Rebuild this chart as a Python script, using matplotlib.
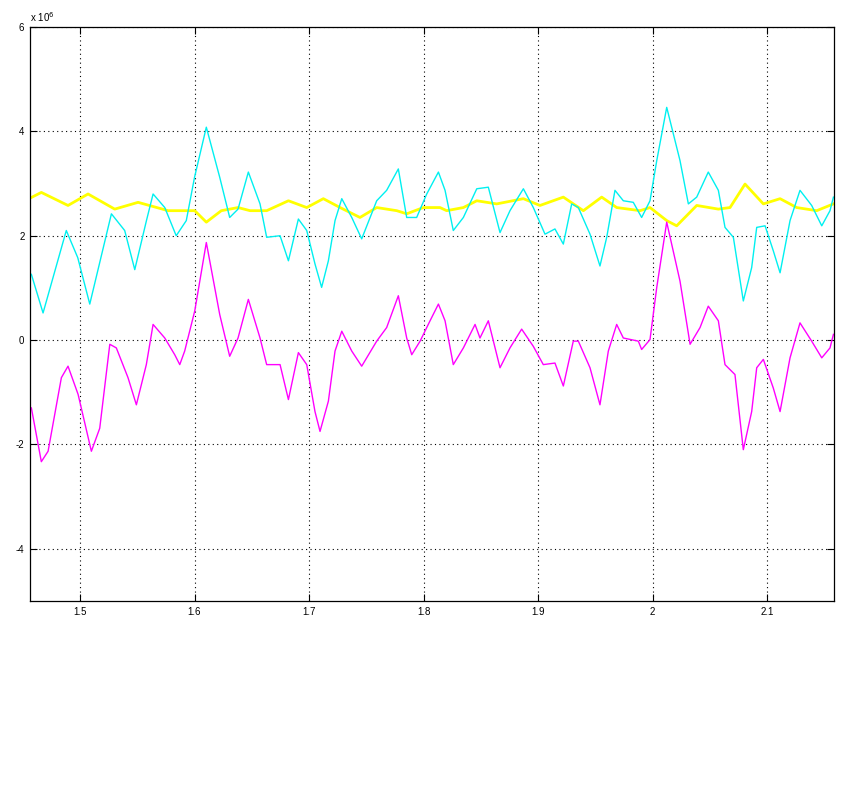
import matplotlib
matplotlib.use("Agg")
import matplotlib.pyplot as plt

# values in units of 1e6
yellow_x = [1.4563, 1.4662, 1.4895, 1.507, 1.5303, 1.5507, 1.5769, 1.6002, 1.6103, 1.6234, 1.638,
            1.6485, 1.663, 1.682, 1.698, 1.7125, 1.7271, 1.7445, 1.7591, 1.7766, 1.7853, 1.7998, 1.8144,
            1.8202, 1.8348, 1.8465, 1.8639, 1.8872, 1.9017, 1.9221, 1.9396, 1.9556, 1.9687, 1.9891,
            1.9978, 2.0124, 2.0211, 2.0386, 2.0575, 2.0677, 2.0808, 2.0968, 2.1114, 2.1259, 2.1434, 2.158]
yellow_y = [2.72, 2.83, 2.58, 2.80, 2.51, 2.64, 2.48, 2.48, 2.26, 2.48, 2.54,
            2.48, 2.48, 2.67, 2.54, 2.71, 2.54, 2.35, 2.54, 2.48, 2.42, 2.54, 2.54,
            2.48, 2.54, 2.67, 2.61, 2.71, 2.58, 2.74, 2.48, 2.74, 2.54, 2.48,
            2.54, 2.29, 2.19, 2.58, 2.51, 2.54, 2.99, 2.61, 2.71, 2.54, 2.48, 2.61]

cyan_x = [1.4575, 1.4677, 1.488, 1.498, 1.5085, 1.5274, 1.539, 1.5478, 1.558, 1.5638, 1.574, 1.584,
          1.5928, 1.600, 1.6103, 1.622, 1.6307, 1.638, 1.647, 1.6572, 1.663, 1.6747, 1.682, 1.6907,
          1.698, 1.7052, 1.711, 1.7169, 1.7227, 1.7286, 1.7373, 1.746, 1.7591, 1.7678, 1.778, 1.7853,
          1.794, 1.8028, 1.813, 1.8188, 1.826, 1.8348, 1.8465, 1.8566, 1.8668, 1.8755, 1.8872, 1.8959,
          1.9061, 1.9148, 1.9221, 1.9294, 1.9352, 1.9454, 1.9541, 1.96, 1.9672, 1.9745, 1.9832,
          1.9905, 1.9978, 2.0037, 2.0124, 2.024, 2.0313, 2.0386, 2.0487, 2.0575, 2.0633, 2.0706,
          2.0793, 2.0866, 2.091, 2.0983, 2.1055, 2.1114, 2.1201, 2.1288, 2.139, 2.1478, 2.155, 2.158]
cyan_y = [1.26, 0.52, 2.10, 1.58, 0.69, 2.42, 2.10, 1.35, 2.29, 2.80, 2.54, 2.0,
          2.29, 3.12, 4.08, 3.12, 2.35, 2.51, 3.22, 2.61, 1.97, 2.0, 1.52, 2.32,
          2.10, 1.46, 1.01, 1.52, 2.29, 2.71, 2.35, 1.94, 2.67, 2.87, 3.28, 2.35,
          2.35, 2.80, 3.22, 2.87, 2.10, 2.35, 2.90, 2.93, 2.06, 2.48, 2.90, 2.54,
          2.03, 2.13, 1.84, 2.61, 2.54, 2.03, 1.42, 1.97, 2.87, 2.67, 2.64,
          2.35, 2.67, 3.44, 4.46, 3.44, 2.61, 2.74, 3.22, 2.87, 2.16, 1.97,
          0.75, 1.39, 2.16, 2.19, 1.71, 1.29, 2.29, 2.87, 2.58, 2.19, 2.48, 2.74]

magenta_x = [1.4575, 1.4662, 1.4721, 1.4837, 1.4895, 1.4983, 1.5099, 1.5172, 1.526, 1.5317, 1.5419,
             1.5492, 1.5579, 1.5638, 1.574, 1.5827, 1.5871, 1.5914, 1.6002, 1.6103, 1.622, 1.6307,
             1.638, 1.647, 1.6572, 1.663, 1.6747, 1.682, 1.6907, 1.698, 1.7052, 1.7096, 1.7169,
             1.7227, 1.7286, 1.7373, 1.746, 1.7591, 1.7678, 1.778, 1.7853, 1.7897, 1.797, 1.8057,
             1.813, 1.8188, 1.826, 1.8348, 1.845, 1.8493, 1.8566, 1.8668, 1.8755, 1.8857, 1.8959,
             1.9046, 1.9148, 1.9221, 1.9308, 1.9352, 1.9454, 1.9541, 1.9614, 1.9687, 1.9745, 1.9876,
             1.9905, 1.9978, 2.0037, 2.0124, 2.024, 2.0328, 2.0415, 2.0487, 2.0575, 2.0633, 2.072,
             2.0793, 2.0866, 2.091, 2.0968, 2.1055, 2.1114, 2.1201, 2.1288, 2.139, 2.1478, 2.155, 2.158]
magenta_y = [-1.30, -2.33, -2.13, -0.72, -0.50, -1.04, -2.13, -1.69, -0.08, -0.15, -0.72,
             -1.24, -0.47, 0.30, 0.04, -0.28, -0.47, -0.21, 0.56, 1.87, 0.49, -0.31,
             0.04, 0.78, 0.04, -0.47, -0.47, -1.14, -0.24, -0.47, -1.37, -1.75, -1.17,
             -0.21, 0.17, -0.21, -0.50, -0.02, 0.24, 0.85, 0.04, -0.28, -0.02, 0.37,
             0.69, 0.37, -0.47, -0.15, 0.30, 0.04, 0.37, -0.53, -0.15, 0.21, -0.12,
             -0.47, -0.44, -0.88, -0.02, -0.02, -0.53, -1.24, -0.21, 0.30, 0.04, -0.02,
             -0.18, 0.01, 1.01, 2.26, 1.13, -0.08, 0.24, 0.65, 0.37, -0.47, -0.66,
             -2.10, -1.37, -0.53, -0.37, -0.92, -1.37, -0.34, 0.33, -0.02, -0.34, -0.15, 0.11]

x_ticks = [1.5, 1.6, 1.7, 1.8, 1.9, 2.0, 2.1]
x_tick_labels = ["1.5", "1.6", "1.7", "1.8", "1.9", "2", "2.1"]
y_ticks = [-4, -2, 0, 2, 4, 6]
y_tick_labels = ["-4", "-2", "0", "2", "4", "6"]

plt.rcParams['font.family'] = ['Liberation Sans', 'DejaVu Sans']

W, H = 857, 807
fig = plt.figure(figsize=(W / 100, H / 100), dpi=100)
ax = fig.add_axes([30 / W, 1 - 601 / H, (834 - 30) / W, (601 - 27) / H])

ax.plot(yellow_x, yellow_y, color='#ffff00', lw=2.0)
ax.plot(cyan_x, cyan_y, color='#00f0f0', lw=1.0)
ax.plot(magenta_x, magenta_y, color='#ff00ff', lw=1.0)

ax.set_xlim(1.4563, 2.1585)
ax.set_ylim(-5, 6)
ax.set_xticks(x_ticks)
ax.set_xticklabels(x_tick_labels)
ax.set_yticks(y_ticks)
ax.set_yticklabels(y_tick_labels)
ax.tick_params(direction='in', length=5, width=0.8, labelsize=7, pad=4,
               top=True, right=True)
ax.grid(True, color='black', linestyle=(0, (1, 3)), linewidth=0.8)
for s in ax.spines.values():
    s.set_linewidth(0.9)

fig.text(30 / W, 1 - 17 / H, r'x 10$^6$', fontsize=7, ha='left', va='center')

fig.savefig('out.png', dpi=100, facecolor='white')
